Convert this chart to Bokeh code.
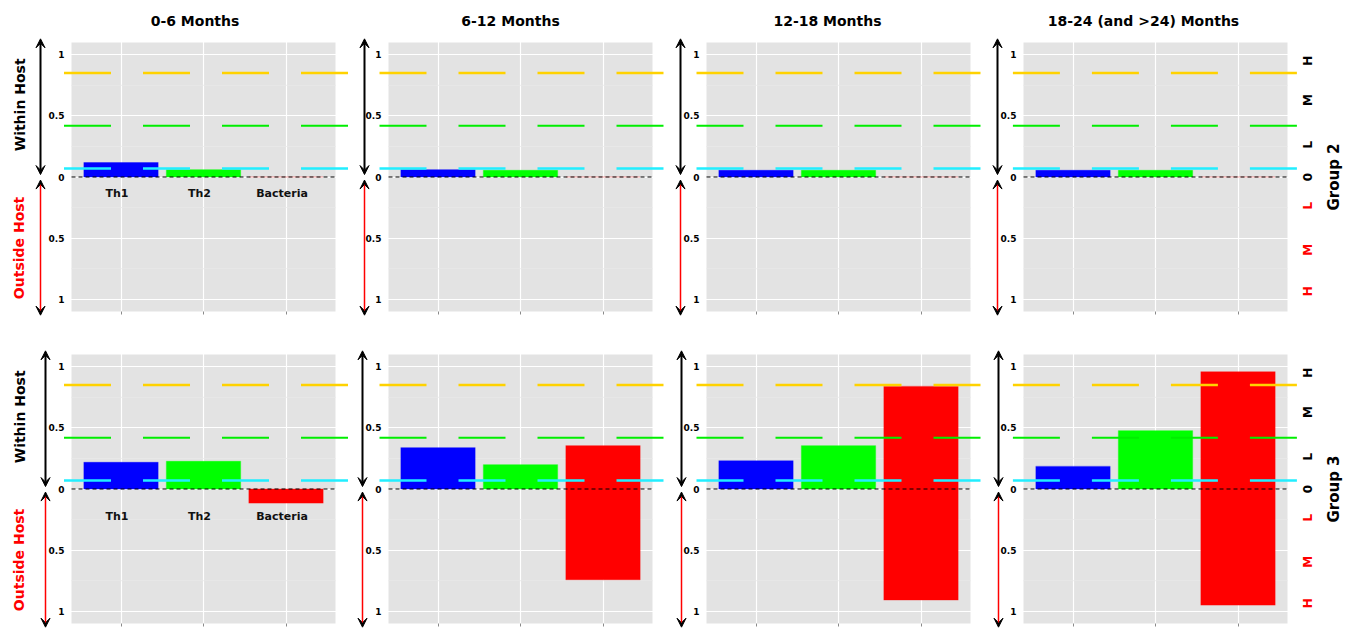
import math
from bokeh.plotting import figure
from bokeh.models import (ColumnDataSource, Range1d, FixedTicker, Arrow, VeeHead)
from bokeh.layouts import row, column
from bokeh.embed import file_html
from bokeh.resources import INLINE
from bokeh.core.properties import value

# ---------------- data ----------------
periods = ["0-6 Months", "6-12 Months", "12-18 Months", "18-24 (and >24) Months"]
groups = ["Group 2", "Group 3"]
cells = ["Th1", "Th2", "Bacteria"]
cell_x = [1, 2, 3]
cell_colors = ["#0000FF", "#00FF00", "#FF0000"]

# within host (upwards) / outside host (downwards) values per period
g2_th1 = [0.118, 0.06, 0.055, 0.055]
g2_th2 = [0.06, 0.055, 0.055, 0.055]
g2_bac_within = [0.0, 0.0, 0.0, 0.0]
g2_bac_outside = [0.0, 0.0, 0.0, 0.0]

g3_th1 = [0.218, 0.338, 0.231, 0.185]
g3_th2 = [0.226, 0.199, 0.354, 0.477]
g3_bac_within = [0.0, 0.354, 0.839, 0.959]
g3_bac_outside = [0.115, 0.742, 0.908, 0.949]

threshold_levels = [0.85, 0.42, 0.07]
threshold_colors = ["#FFD200", "#00EE00", "#22EEFF"]

level_marks = ["H", "M", "L", "0", "L", "M", "H"]
level_mark_colors = ["black", "black", "black", "black", "red", "red", "red"]

tick_values = [-1, -0.5, 0, 0.5, 1]
tick_labels = ["1", "0.5", "0", "0.5", "1"]
minor_values = [-0.75, -0.25, 0.25, 0.75]

# ---------------- layout / styling ----------------
FONT = "DejaVu Sans"
XMIN, XMAX = 0.4, 3.6
YMIN, YMAX = -1.1, 1.1
KX = (XMAX - XMIN) / 264.0   # data units per pixel
KY = (YMAX - YMIN) / 269.0
col_pad_left = [71, 36, 38, 37]
col_pad_right = [17, 16, 16, 58]
row_pad_top = [42, 31]
row_pad_bottom = [12, 5]
title_dx_px = [-8.5, -10, -11, -12]
title_dy_px = 21.3
arrow_dx_px = [[-31, -24, -26, -26], [-26, -26, -25, -25]]
dash_start_px = [-7.5, -9, -10, -10.6]
threshold_widths = [2.5, 2, 2.5]
level_mark_y = [0.95, 0.63, 0.265, 0.0, -0.235, -0.595, -0.935]
cat_label_y = [-0.134, -0.227]

series = {
    "Group 2": (g2_th1, g2_th2, g2_bac_within, g2_bac_outside),
    "Group 3": (g3_th1, g3_th2, g3_bac_within, g3_bac_outside),
}


def head():
    return VeeHead(size=9, fill_color="black", line_color="black", line_width=1)


rows = []
for r, grp in enumerate(groups):
    figs = []
    th1, th2, bw, bo = series[grp]
    for c, period in enumerate(periods):
        w = col_pad_left[c] + 264 + col_pad_right[c]
        h = row_pad_top[r] + 269 + row_pad_bottom[r]
        x0 = XMIN - col_pad_left[c] * KX
        x1 = XMAX + col_pad_right[c] * KX
        y0 = YMIN - row_pad_bottom[r] * KY
        y1 = YMAX + row_pad_top[r] * KY
        p = figure(width=w, height=h, x_range=Range1d(x0, x1),
                   y_range=Range1d(y0, y1), output_backend="svg",
                   toolbar_location=None, min_border=0,
                   background_fill_color="white",
                   border_fill_color="white", outline_line_color=None)
        p.title.visible = False

        # grey panel (below the grid)
        p.quad(left=[XMIN], right=[XMAX], bottom=[YMIN], top=[YMAX],
               fill_color="#E3E3E3", line_color=None, level="image")

        yt = FixedTicker(ticks=tick_values)
        xt = FixedTicker(ticks=cell_x)
        p.yaxis.ticker = yt
        p.ygrid.ticker = yt
        p.xaxis.ticker = xt
        p.xgrid.ticker = xt
        p.yaxis.fixed_location = XMIN
        p.xaxis.fixed_location = YMIN
        p.yaxis.major_label_overrides = {v: t for v, t in zip(tick_values, tick_labels)}
        p.yaxis.axis_line_color = None
        p.yaxis.major_tick_out = 0
        p.yaxis.major_tick_in = 0
        p.yaxis.minor_tick_out = 0
        p.yaxis.minor_tick_in = 0
        p.yaxis.major_label_standoff = 7
        p.yaxis.major_label_text_font = FONT
        p.yaxis.major_label_text_font_style = "bold"
        p.yaxis.major_label_text_font_size = "9px"
        p.yaxis.major_label_text_color = "black"
        p.xaxis.axis_line_color = None
        p.xaxis.major_tick_in = 0
        p.xaxis.major_tick_out = 3
        p.xaxis.minor_tick_out = 0
        p.xaxis.minor_tick_in = 0
        p.xaxis.major_tick_line_color = "#8A8A8A"
        p.xaxis.major_label_overrides = {v: "" for v in cell_x}
        p.xaxis.major_label_standoff = 0
        p.ygrid.grid_line_color = "white"
        p.ygrid.grid_line_width = 1.2
        p.xgrid.grid_line_color = "white"
        p.xgrid.grid_line_width = 1.2

        # faint minor grid lines inside the panel
        p.segment(x0=[XMIN] * 4, x1=[XMAX] * 4, y0=minor_values, y1=minor_values,
                  line_color="#E9E9E9", line_width=0.8)

        within = [th1[c], th2[c], bw[c]]
        outside = [0.0, 0.0, bo[c]]
        src = ColumnDataSource(dict(x=cell_x, top=within,
                                    bottom=[-v for v in outside],
                                    color=cell_colors))
        p.vbar(x="x", top="top", bottom="bottom", width=0.9, source=src,
               fill_color="color", line_color="color", line_alpha=0.35,
               line_width=1.2)

        if r == 0:
            p.text(x=[(XMIN + XMAX) / 2 + title_dx_px[c] * KX], y=[YMAX + title_dy_px * KY],
                   text=[period], text_align="center", text_baseline="middle",
                   text_font=value(FONT), text_font_style="bold",
                   text_font_size="14px", text_color="black")

        if c == 0:
            p.text(x=cell_x, y=[cat_label_y[r]] * 3, text=cells, x_offset=-4,
                   text_font=value(FONT), text_font_style="bold",
                   text_font_size="11px", text_align="center",
                   text_baseline="middle", text_color="#111111")

        xs0 = XMIN + dash_start_px[c] * KX
        xs1 = XMAX + 13 * KX
        for lvl, col, lw in zip(threshold_levels, threshold_colors, threshold_widths):
            p.segment(x0=[xs0], x1=[xs1], y0=[lvl], y1=[lvl], line_color=col,
                      line_width=lw, line_dash="47 32")
        p.segment(x0=[XMIN], x1=[XMAX], y0=[0], y1=[0], line_color="black",
                  line_width=1, line_dash="4 3")

        xa = XMIN + arrow_dx_px[r][c] * KX
        p.add_layout(Arrow(x_start=xa, y_start=0.02, x_end=xa, y_end=1.13,
                           start=head(), end=head(),
                           line_color="black", line_width=2))
        p.add_layout(Arrow(x_start=xa, y_start=-0.025, x_end=xa, y_end=-1.13,
                           start=head(), end=head(),
                           line_color="red", line_width=1.5))

        if c == 0:
            p.text(x=[XMIN - 51.5 * KX], y=[0.59], text=["Within Host"],
                   angle=math.pi / 2, text_align="center", text_baseline="middle",
                   text_font=value(FONT), text_font_style="bold",
                   text_font_size="14px", text_color="black")
            p.text(x=[XMIN - 52.5 * KX], y=[-0.58], text=["Outside Host"],
                   angle=math.pi / 2, text_align="center", text_baseline="middle",
                   text_font=value(FONT), text_font_style="bold",
                   text_font_size="14px", text_color="red")
        if c == len(periods) - 1:
            p.text(x=[XMAX + 20 * KX] * len(level_marks), y=level_mark_y,
                   text=level_marks, text_color=level_mark_colors,
                   angle=math.pi / 2, text_align="center", text_baseline="middle",
                   text_font=value(FONT), text_font_style="bold",
                   text_font_size="12px")
            p.text(x=[XMAX + 46 * KX], y=[0.0], text=[grp],
                   angle=math.pi / 2, text_align="center", text_baseline="middle",
                   text_font=value(FONT), text_font_style="bold",
                   text_font_size="15px", text_color="black")
        figs.append(p)
    rows.append(row(figs, spacing=0))

layout = column(rows, spacing=0)
open("out.html", "w").write(file_html(layout, INLINE))
